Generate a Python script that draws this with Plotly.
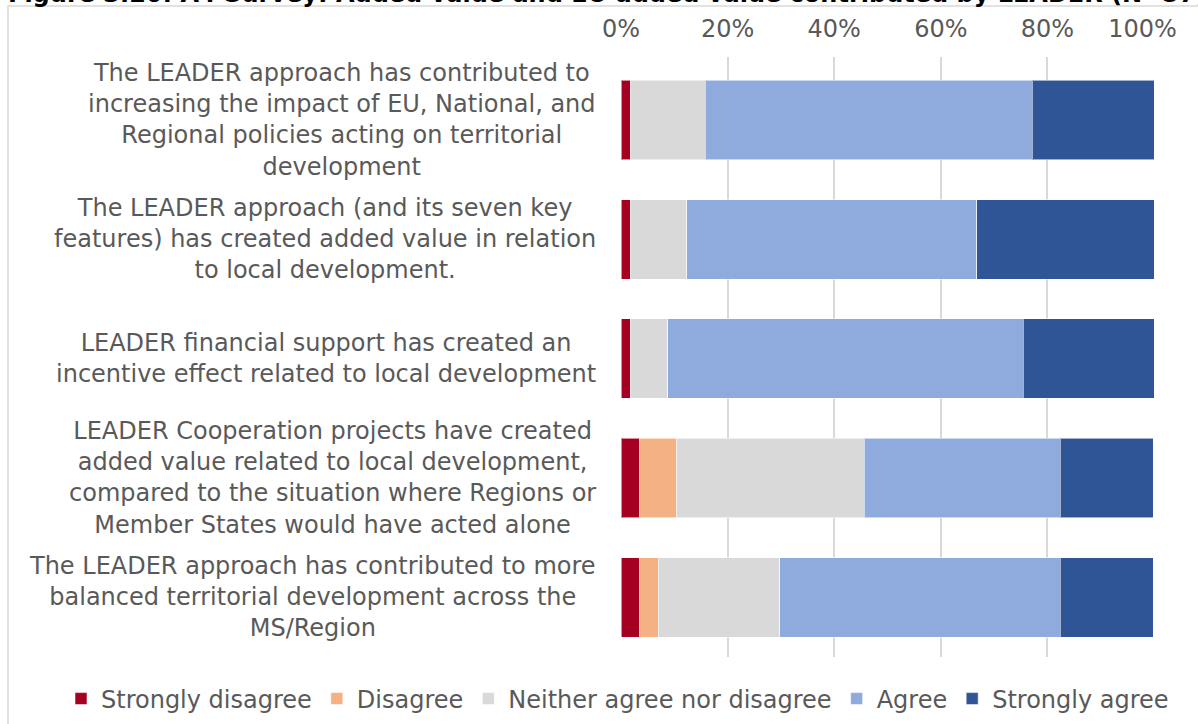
import plotly.graph_objects as go

categories = [
    "The LEADER approach has contributed to<br>increasing the impact of EU, National, and<br>Regional policies acting on territorial<br>development",
    "The LEADER approach (and its seven key<br>features) has created added value in relation<br>to local development.",
    "LEADER financial support has created an<br>incentive effect related to local development",
    "LEADER Cooperation projects have created<br>added value related to local development,<br>compared to the situation where Regions or<br>Member States would have acted alone",
    "The LEADER approach has contributed to more<br>balanced territorial development across the<br>MS/Region",
]
cat_ids = ["c1", "c2", "c3", "c4", "c5"]

strongly_disagree = [1.8, 1.8, 1.8, 3.5, 3.5]
disagree = [0.0, 0.0, 0.0, 7.0, 3.5]
neither = [14.0, 10.5, 7.0, 35.1, 22.8]
agree = [61.4, 54.4, 66.7, 36.8, 52.6]
strongly_agree = [22.8, 33.3, 24.6, 17.5, 17.5]

series_names = ["Strongly disagree", "Disagree", "Neither agree nor disagree", "Agree", "Strongly agree"]
series_values = [strongly_disagree, disagree, neither, agree, strongly_agree]
series_colors = ["#A50021", "#F4B183", "#D9D9D9", "#8FAADC", "#2F5597"]

tick_vals = [0, 20, 40, 60, 80, 100]
tick_text = ["0%", "20%", "40%", "60%", "80%", "100%&nbsp;&nbsp;&nbsp;"]

title_text = "Figure 3.20: A4 Survey: Added value and EU added value contributed by LEADER (N=57)"

TEXT = "#595959"
FONT = "DejaVu Sans"

fig = go.Figure()
for name, vals, col in zip(series_names, series_values, series_colors):
    fig.add_trace(go.Bar(
        y=cat_ids, x=vals, name=name, orientation="h",
        marker=dict(color=col, line=dict(color="rgba(255,255,255,0.55)", width=1)),
    ))

W, H = 1198, 724
L, R, T, B = 621, 44, 57, 67
pw, ph = W - L - R, H - T - B

def px2x(px):
    return (px - L) / pw

def py2y(py):
    return (H - B - py) / ph

annotations = []
for cid, label in zip(cat_ids, categories):
    annotations.append(dict(
        x=px2x(598), xref="paper", y=cid, yref="y",
        text=label, showarrow=False, xanchor="right", yanchor="middle",
        align="center", font=dict(family=FONT, size=24, color=TEXT),
    ))
annotations.append(dict(
    x=px2x(6), xref="paper", y=py2y(-6), yref="paper",
    text="<b>" + title_text + "</b>", showarrow=False,
    xanchor="left", yanchor="middle", align="left",
    font=dict(family=FONT, size=24, color="#000000"),
))

fig.update_layout(
    width=W, height=H,
    margin=dict(l=L, r=R, t=T, b=B, autoexpand=False),
    paper_bgcolor="white", plot_bgcolor="white",
    barmode="stack", bargap=0.333,
    font=dict(family=FONT, size=24, color=TEXT),
    showlegend=True,
    legend=dict(
        orientation="h", xref="paper", yref="paper",
        x=px2x(61), y=py2y(699), xanchor="left", yanchor="middle",
        font=dict(family=FONT, size=24, color=TEXT),
        traceorder="normal", itemwidth=30, bgcolor="rgba(0,0,0,0)",
    ),
    annotations=annotations,
    shapes=[dict(
        type="rect", xref="paper", yref="paper",
        x0=px2x(8), x1=px2x(1215), y0=py2y(740), y1=py2y(6),
        line=dict(color="#D9D9D9", width=1.5), fillcolor="rgba(0,0,0,0)",
        layer="below",
    )],
)
fig.update_xaxes(
    range=[0, 100], side="top", tickvals=tick_vals, ticktext=tick_text,
    showgrid=True, gridcolor="#D9D9D9", gridwidth=1.5, zeroline=False,
    showline=False, ticks="", ticklabelstandoff=14, ticklabeloverflow="allow",
    tickfont=dict(family=FONT, size=24, color=TEXT),
)
fig.update_yaxes(
    categoryorder="array", categoryarray=cat_ids, autorange="reversed",
    showticklabels=False, showgrid=False, zeroline=False, showline=False, ticks="",
)

fig.write_html("out.html", config={"displayModeBar": False},
               post_script="document.body.style.margin='0';")
